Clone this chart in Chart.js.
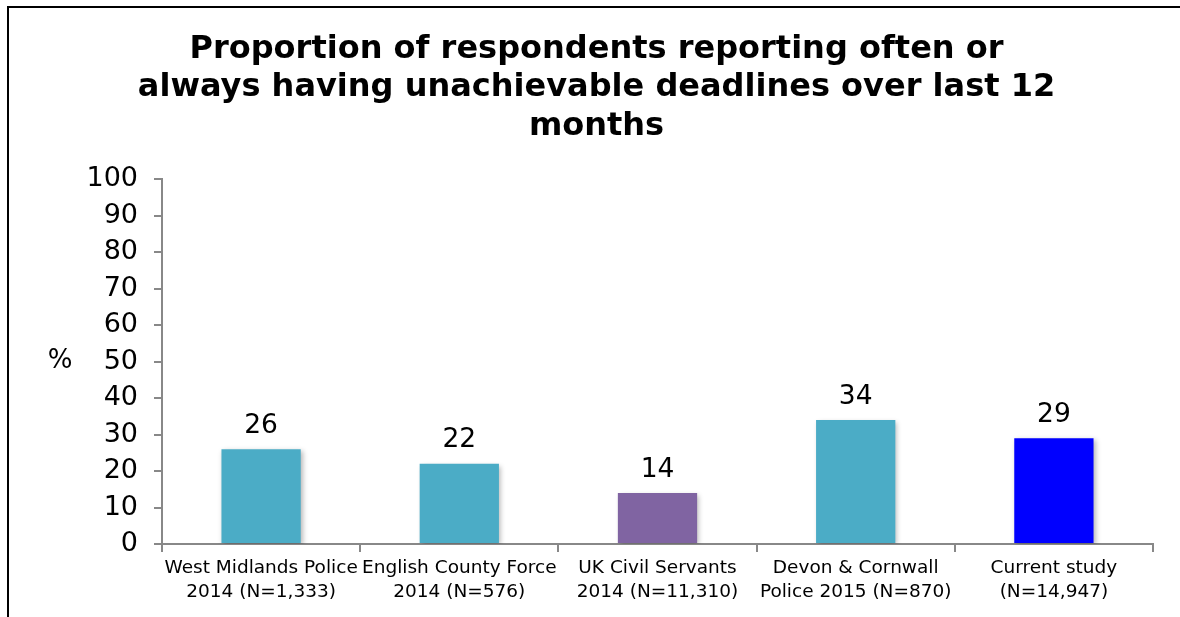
<!DOCTYPE html>
<html lang="en">
<head>
  <meta charset="UTF-8">
  <title>Unachievable deadlines</title>
  <script src="https://cdn.jsdelivr.net/npm/chart.js"></script>
  <style>
    html, body { margin: 0; padding: 0; background: #fff; overflow: hidden; }
    #chart { position: absolute; left: 0; top: 0; }
    /* outer frame, only top and left edges show in the window */
    #frame {
      position: absolute; left: 7px; top: 6px; width: 1300px; height: 800px;
      border-left: 2px solid #000; border-top: 2px solid #000;
      pointer-events: none;
    }
  </style>
</head>
<body>
  <canvas id="chart" width="1180" height="617"></canvas>
  <div id="frame"></div>

  <script>
    const titleLines = [
      'Proportion of respondents reporting often or',
      'always having unachievable deadlines over last 12',
      'months'
    ];
    const categories = [
      ['West Midlands Police', '2014 (N=1,333)'],
      ['English County Force', '2014 (N=576)'],
      ['UK Civil Servants', '2014 (N=11,310)'],
      ['Devon & Cornwall', 'Police 2015 (N=870)'],
      ['Current study', '(N=14,947)']
    ];
    const values = [26, 22, 14, 34, 29];
    const barColors = ['#4bacc6', '#4bacc6', '#8064a2', '#4bacc6', '#0000ff'];
    const yTitle = '%';

    const FONT = '"DejaVu Sans", Verdana, sans-serif';

    // shadow under bars + value labels + the "%" axis caption
    const barExtras = {
      id: 'barExtras',
      beforeDatasetsDraw(chart) {
        const ctx = chart.ctx;
        ctx.save();
        ctx.shadowColor = 'rgba(0,0,0,0.28)';
        ctx.shadowBlur = 5;
        ctx.shadowOffsetX = 2;
        ctx.shadowOffsetY = 2;
      },
      afterDatasetsDraw(chart) {
        const ctx = chart.ctx;
        ctx.restore();
        ctx.save();
        ctx.fillStyle = '#000';
        ctx.font = '26.5px ' + FONT;
        ctx.textAlign = 'center';
        ctx.textBaseline = 'bottom';
        chart.getDatasetMeta(0).data.forEach((bar, i) => {
          ctx.fillText(String(values[i]), bar.x, bar.y - 10);
        });
        const y = chart.scales.y;
        ctx.font = '26px ' + FONT;
        ctx.textBaseline = 'middle';
        ctx.fillText(yTitle, 60, y.getPixelForValue(50));
        ctx.restore();
      }
    };

    new Chart(document.getElementById('chart'), {
      type: 'bar',
      data: {
        labels: categories,
        datasets: [{
          data: values,
          backgroundColor: barColors,
          borderWidth: 0,
          barPercentage: 0.40,
          categoryPercentage: 1.0
        }]
      },
      options: {
        responsive: false,
        animation: false,
        layout: { padding: { left: 40, right: 27, top: 0, bottom: 0 } },
        plugins: {
          legend: { display: false },
          tooltip: { enabled: false },
          title: {
            display: true,
            text: titleLines,
            color: '#000',
            font: { family: FONT, size: 32, weight: 'bold', lineHeight: 1.19 },
            padding: { top: 31, bottom: 34 }
          }
        },
        scales: {
          x: {
            grid: { display: true, drawOnChartArea: false, drawTicks: true, tickLength: 8, color: '#888', lineWidth: 2, offset: true },
            border: { color: '#888', width: 2 },
            ticks: { color: '#000', font: { family: FONT, size: 18.5, lineHeight: 1.25 }, padding: 5, maxRotation: 0, autoSkip: false },
            afterFit(scale) { scale.height = 73; }
          },
          y: {
            min: 0,
            max: 100,
            ticks: { stepSize: 10, autoSkip: false, color: '#000', font: { family: FONT, size: 27 }, padding: 16 },
            grid: { display: true, drawOnChartArea: false, drawTicks: true, tickLength: 8, color: '#888', lineWidth: 2 },
            border: { color: '#888', width: 2 },
            afterFit(scale) { scale.width = 122; }
          }
        }
      },
      plugins: [barExtras]
    });
  </script>
</body>
</html>
